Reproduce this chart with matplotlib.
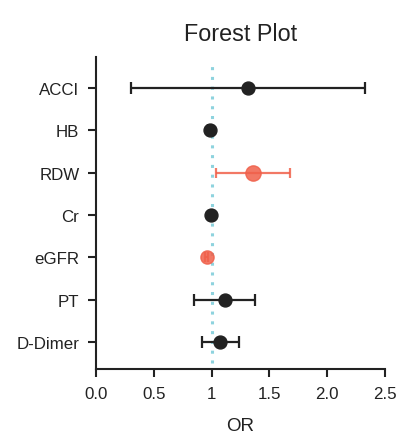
import matplotlib
matplotlib.use("Agg")
import matplotlib.pyplot as plt

labels = ["ACCI", "HB", "RDW", "Cr", "eGFR", "PT", "D-Dimer"]
odds = [1.316, 0.983, 1.356, 0.994, 0.957, 1.115, 1.072]
lower = [0.307, 0.970, 1.035, 0.985, 0.945, 0.851, 0.914]
upper = [2.330, 0.995, 1.678, 1.003, 0.968, 1.379, 1.233]
significant = [False, False, True, False, True, False, False]
xticks = [0.0, 0.5, 1.0, 1.5, 2.0, 2.5]
xticklabels = ["0.0", "0.5", "1", "1.5", "2.0", "2.5"]

plt.rcParams['font.family'] = ['Liberation Sans', 'DejaVu Sans']

fig = plt.figure(figsize=(3.98, 4.39), dpi=100)
ax = fig.add_axes([96/398, 1-370/439, (385-96)/398, (370-58)/439])

ax.axvline(1.0, ymin=0.02, ymax=0.99, color="#8ed3de", linestyle=(0, (1, 2.2)), linewidth=2.2, zorder=1)

for i, (lab, o, lo, hi, sig) in enumerate(zip(labels, odds, lower, upper, significant)):
    if sig:
        col = "#f0604a"
        ax.errorbar(o, i, xerr=[[o - lo], [hi - o]], fmt='o', color=col, ecolor=col,
                    elinewidth=1.6, capsize=3.5, capthick=1.6, markersize=11 if lab == "RDW" else 9.5,
                    alpha=0.85, zorder=3)
    else:
        col = "#222222"
        ax.errorbar(o, i, xerr=[[o - lo], [hi - o]], fmt='o', color=col, ecolor=col,
                    elinewidth=1.6, capsize=4, capthick=1.6, markersize=9.3, zorder=3)

ax.set_yticks(range(len(labels)))
ax.set_yticklabels(labels, fontsize=12.2)
ax.set_ylim(6.64, -0.73)
ax.set_xlim(0, 2.5)
ax.set_xticks(xticks)
ax.set_xticklabels(xticklabels, fontsize=12.2)
ax.set_xlabel("OR", fontsize=13.5, labelpad=12)
ax.set_title("Forest Plot", fontsize=16.8, pad=12, color="#222222")

for s in ["top", "right"]:
    ax.spines[s].set_visible(False)
for s in ["left", "bottom"]:
    ax.spines[s].set_linewidth(1.5)
    ax.spines[s].set_color("#222222")
ax.tick_params(axis='both', direction='out', length=6, width=1.5, color="#222222", labelcolor="#222222")
ax.tick_params(axis='y', pad=6)
ax.tick_params(axis='x', pad=6)
ax.xaxis.label.set_color("#222222")

fig.savefig("out.png", dpi=100)
